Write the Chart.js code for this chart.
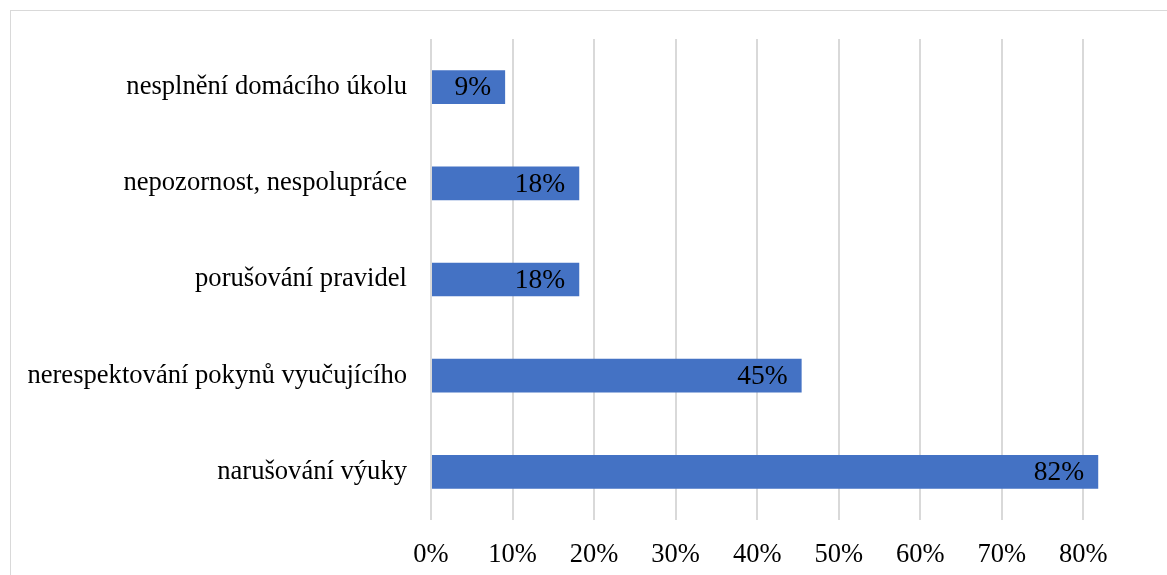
<!DOCTYPE html>
<html>
<head>
<meta charset="utf-8">
<script src="https://cdn.jsdelivr.net/npm/chart.js@4/dist/chart.umd.min.js"></script>
<style>
  html, body { margin: 0; padding: 0; background: #fff; overflow: hidden; }
  #frame { position: absolute; left: 10px; top: 10px; width: 1200px; height: 600px; border: 1px solid #d9d9d9; }
  #wrap { position: absolute; left: 0; top: 0; width: 1167px; height: 575px; }
</style>
</head>
<body>
<div id="frame"></div>
<div id="wrap"><canvas id="chart"></canvas></div>
<script>
const categories = [
  'nesplnění domácího úkolu',
  'nepozornost, nespolupráce',
  'porušování pravidel',
  'nerespektování pokynů vyučujícího',
  'narušování výuky'
];
const shares = [0.0909, 0.1818, 0.1818, 0.4545, 0.8182];

const BLUE = '#4472C4', GRID = '#d9d9d9', FONT = "'Liberation Serif', 'Times New Roman', serif";

// values written inside the bar end, like the office chart
const endLabels = {
  id: 'endLabels',
  afterDatasetsDraw(chart) {
    const ctx = chart.ctx;
    const meta = chart.getDatasetMeta(0);
    ctx.save();
    ctx.font = '27.5px ' + FONT;
    ctx.fillStyle = '#000';
    ctx.textAlign = 'right';
    ctx.textBaseline = 'middle';
    meta.data.forEach((bar, i) => {
      ctx.fillText(Math.round(shares[i] * 100) + '%', bar.x - 14, bar.y + 1);
    });
    ctx.restore();
  }
};

new Chart(document.getElementById('chart'), {
  type: 'bar',
  data: {
    labels: categories,
    datasets: [{
      data: shares,
      backgroundColor: BLUE,
      barPercentage: 0.35,
      categoryPercentage: 1
    }]
  },
  options: {
    indexAxis: 'y',
    responsive: true,
    maintainAspectRatio: false,
    animation: false,
    layout: { padding: { top: 39, right: 51, left: 0, bottom: 0 } },
    plugins: { legend: { display: false }, tooltip: { enabled: false } },
    scales: {
      x: {
        min: 0,
        max: 0.84,
        grid: { color: GRID, lineWidth: 2, drawTicks: false },
        border: { display: false },
        ticks: {
          stepSize: 0.1,
          includeBounds: false,
          padding: 19,
          color: '#000',
          font: { family: FONT, size: 26.5 },
          callback: v => Math.round(v * 100) + '%'
        },
        afterFit: s => { s.height = 55; }
      },
      y: {
        grid: { display: false },
        border: { display: false },
        ticks: {
          padding: 16,
          color: '#000',
          font: { family: FONT, size: 26.6 }
        },
        afterFit: s => { s.width = 431; }
      }
    }
  },
  plugins: [endLabels]
});
</script>
</body>
</html>
